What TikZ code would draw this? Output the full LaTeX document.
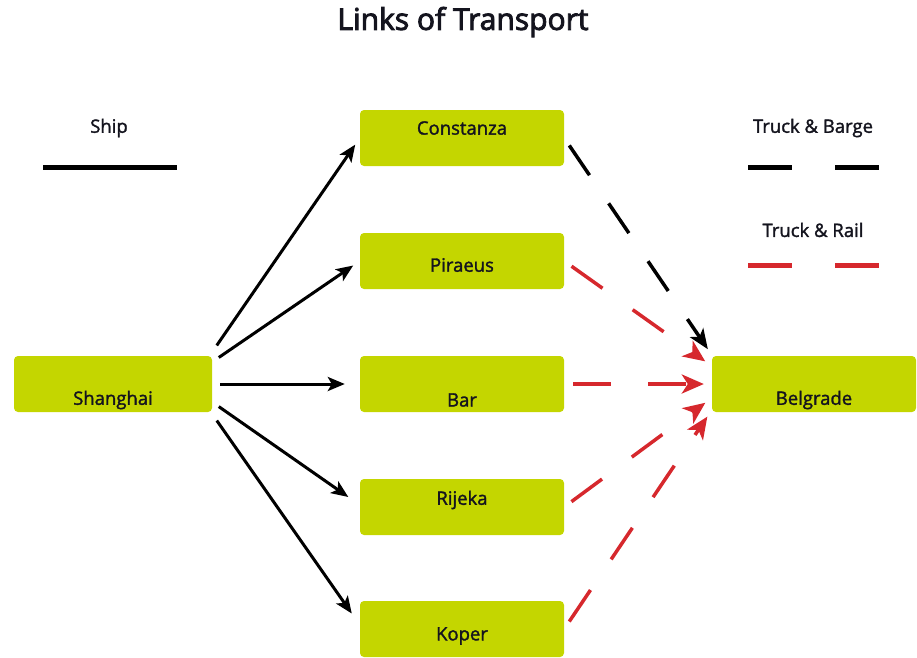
\documentclass[tikz,border=0pt]{standalone}
\usepackage{fontspec}
\setmainfont{Open Sans}
\newfontfamily\labelfont{Open Sans}[FakeBold=1.6]
\newfontfamily\titlefont{Open Sans}[FakeBold=3]
\usetikzlibrary{arrows.meta, positioning}
\definecolor{portgreen}{RGB}{196,214,0}
\definecolor{railred}{RGB}{214,40,45}
\definecolor{inkdark}{RGB}{20,20,30}

\begin{document}
\begin{tikzpicture}[
    x=1pt, y=-1pt,
    port_block/.style={rectangle, fill=portgreen, rounded corners=4pt, minimum width=204pt, minimum height=56pt, inner sep=0pt},
    port_text/.style={text=inkdark, font=\labelfont\fontsize{18.5}{22}\selectfont},
    legend_text/.style={text=inkdark, font=\labelfont\fontsize{18.5}{22}\selectfont},
    ship_flow/.style={-{Stealth[length=17pt, width=14pt, inset=4pt]}, line width=3pt, black, shorten <=8pt, shorten >=8pt},
    barge_flow/.style={-{Stealth[length=20pt, width=16pt, inset=5pt]}, line width=3.5pt, black, dash pattern=on 36pt off 34pt, shorten <=9pt, shorten >=7pt},
    rail_flow/.style={-{Stealth[length=22pt, width=19pt, inset=6pt]}, line width=3.5pt, railred, dash pattern=on 38pt off 37pt, shorten <=9pt, shorten >=8pt}
]
    \useasboundingbox (0,0) rectangle (917,657);

    % Title
    \node[text=inkdark, font=\titlefont\fontsize{30}{36}\selectfont] (title) at (463,22) {Links of Transport};

    % Ports
    \node[port_block, minimum width=198pt, label={[port_text, yshift=-16pt]center:Shanghai}] (shanghai) at (113,384) {};
    \node[port_block, label={[port_text, yshift=10pt]center:Constanza}] (constanza) at (462,138) {};
    \node[port_block, label={[port_text, yshift=-4pt]center:Piraeus}] (piraeus) at (462,261) {};
    \node[port_block, label={[port_text, yshift=-16pt]center:Bar}] (bar) at (462,384) {};
    \node[port_block, label={[port_text, yshift=7pt]center:Rijeka}] (rijeka) at (462,507) {};
    \node[port_block, label={[port_text, yshift=-7pt]center:Koper}] (koper) at (462,629) {};
    \node[port_block, label={[port_text, yshift=-16pt]center:Belgrade}] (belgrade) at (814,384) {};

    % Ship links
    \draw[ship_flow] ([yshift=32pt]shanghai.east) -- (constanza.west);
    \draw[ship_flow] ([yshift=22pt]shanghai.east) -- (piraeus.west);
    \draw[ship_flow, shorten >=15pt] (shanghai.east) -- (bar.west);
    \draw[ship_flow, shorten >=14pt] ([yshift=-18pt]shanghai.east) -- ([yshift=2pt]rijeka.west);
    \draw[ship_flow, shorten >=14pt] ([yshift=-30pt]shanghai.east) -- ([yshift=4pt]koper.west);

    % Truck links
    \draw[barge_flow] (constanza.east) -- ([yshift=29pt]belgrade.west);
    \draw[rail_flow] (piraeus.east) -- ([yshift=18pt]belgrade.west);
    \draw[rail_flow] (bar.east) -- (belgrade.west);
    \draw[rail_flow] (rijeka.east) -- ([yshift=-14pt]belgrade.west);
    \draw[rail_flow] (koper.east) -- ([yshift=-26pt]belgrade.west);

    % Legend
    \node[legend_text] (ship_key) at (109,128) {Ship};
    \coordinate (ship_a) at (43,167);
    \coordinate (ship_b) at (177,167);
    \draw[line width=5pt, black] (ship_a) -- (ship_b);

    \node[legend_text] (barge_key) at (813,128) {Truck \& Barge};
    \coordinate (barge_a) at (748,167);
    \coordinate (barge_b) at (879,167);
    \draw[line width=5pt, black, dash pattern=on 44pt off 43pt] (barge_a) -- (barge_b);

    \node[legend_text] (rail_key) at (813,230) {Truck \& Rail};
    \coordinate (rail_a) at (748,265);
    \coordinate (rail_b) at (879,265);
    \draw[line width=5pt, railred, dash pattern=on 44pt off 43pt] (rail_a) -- (rail_b);

\end{tikzpicture}
\end{document}
